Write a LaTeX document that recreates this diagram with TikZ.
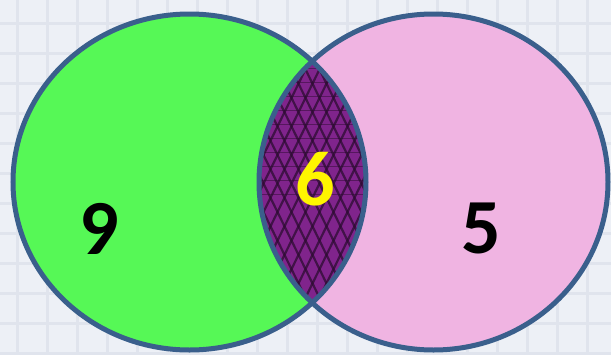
\documentclass[tikz,border=0pt]{standalone}
\usepackage{fontspec}
\setmainfont{Carlito}
\usepackage{tikz}
\usetikzlibrary{patterns, positioning}

\definecolor{paper}{RGB}{237,240,246}
\definecolor{gridline}{RGB}{224,228,237}
\definecolor{vennedge}{RGB}{58,95,140}
\definecolor{setgreen}{RGB}{86,248,86}
\definecolor{setpink}{RGB}{240,180,226}
\definecolor{overlap}{RGB}{128,36,140}
\definecolor{weave}{RGB}{45,12,50}
\definecolor{numyellow}{RGB}{255,245,0}

\begin{document}
\begin{tikzpicture}[
  x=1pt, y=-1pt,
  region/.style={fill=#1},
  outline/.style={draw=vennedge, line width=5pt},
  count/.style={font=\fontsize{78}{80}\selectfont\bfseries, inner sep=0pt, text=#1}
]

% Background paper with faint grid
\fill[paper] (0,0) rectangle (611,354);
\useasboundingbox (0,0) rectangle (611,354);
\foreach \gx in {17,47,...,611} \draw[gridline, line width=3pt] (\gx,0) -- (\gx,354);
\foreach \gy in {23,53,...,354} \draw[gridline, line width=3pt] (0,\gy) -- (611,\gy);

% Sets
\fill[region=setgreen] (189.5,182) ellipse [x radius=176.5, y radius=168];
\fill[region=setpink] (433.5,182) ellipse [x radius=174.5, y radius=168];

% Intersection, woven purple texture
\begin{scope}
  \clip (189.5,182) ellipse [x radius=176.5, y radius=168];
  \clip (433.5,182) ellipse [x radius=174.5, y radius=168];
  \fill[overlap] (250,50) rectangle (375,315);
  \foreach \d in {-150,-136,...,150} {
    \draw[weave, line width=2.2pt, opacity=.75] (250+\d,50) -- ++(130,265);
    \draw[weave, line width=2.2pt, opacity=.75] (375-\d,50) -- ++(-130,265);
  }
  \foreach \d in {-150,-136,...,150}
    \draw[weave, line width=1pt, opacity=.5] (250,50+\d) -- ++(125,0);
\end{scope}

% Outlines
\draw[outline] (189.5,182) ellipse [x radius=176.5, y radius=168];
\draw[outline] (433.5,182) ellipse [x radius=174.5, y radius=168];

% Counts
\node[count=black] (onlyA) at (99.5,228.5) {9};
\node[count=numyellow] (both) at (315,179) {6};
\node[count=black] (onlyB) at (481.5,228.5) {5};

\end{tikzpicture}
\end{document}
